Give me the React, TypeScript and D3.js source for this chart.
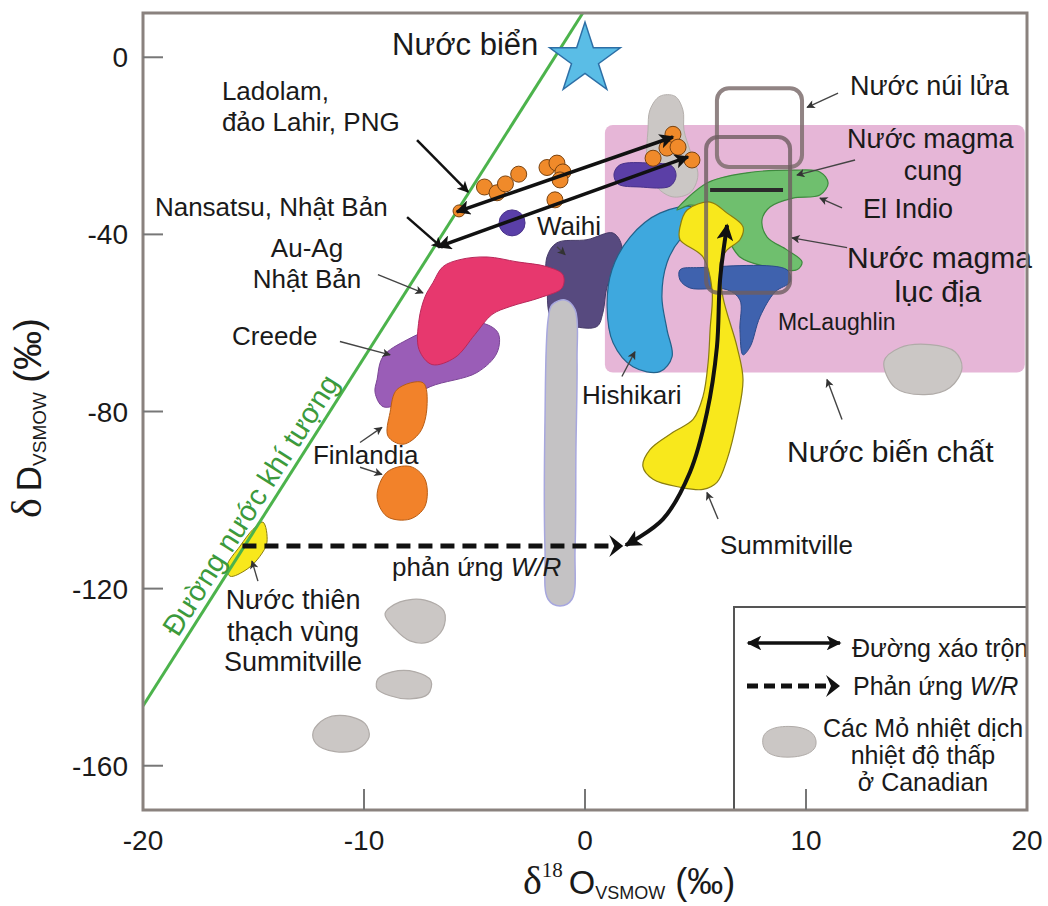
import React from 'react';
import * as d3 from 'd3';

type P = [number, number];

// ---------- axes ----------
const xDomain: P = [-20, 20];
const yDomain: P = [-170, 10];
const xTickLabels = [-20, -10, 0, 10, 20];
const xTickMarks = [-10, 0, 10];
const yTickLabels = [0, -40, -80, -120, -160];

// ---------- data (δ18O ‰, δD ‰) ----------
const seaWater: P = [0, 0];
const meteoricLine: P[] = [[-20, -146.5], [-0.1, 10]];
const metamorphicBox = { x0: 0.9, x1: 19.9, yTop: -15.3, yBottom: -71.2 };
const volcanicBox = { x0: 5.97, x1: 9.82, yTop: -7.0, yBottom: -24.8 };
const magmaticBox = { x0: 5.48, x1: 9.28, yTop: -18.0, yBottom: -53.2 };
const magmaticLine: P[] = [[5.66, -30.0], [8.96, -30.0]];

const canadianTop: P[] = [[2.94, -11.9], [3.39, -8.8], [4.07, -8.8], [4.43, -11.9], [4.48, -16.5], [4.75, -21.0], [5.11, -26.6], [4.75, -30.6], [3.94, -31.5], [3.17, -28.8], [2.81, -23.2], [2.85, -16.5]];
const canadianStrip: P[] = [[-1.67, -59.3], [-1.49, -55.9], [-0.9, -54.8], [-0.45, -57.0], [-0.36, -68.3], [-0.41, -88.6], [-0.45, -111.1], [-0.59, -122.4], [-1.13, -123.9], [-1.67, -122.4], [-1.81, -111.1], [-1.81, -81.8]];
const canadianA: P[] = [[-9.05, -125.7], [-8.37, -123.0], [-7.24, -122.6], [-6.38, -125.1], [-6.43, -129.1], [-7.1, -132.1], [-7.92, -131.8], [-8.6, -129.1]];
const canadianB: P[] = [[-9.37, -140.4], [-8.73, -138.8], [-7.69, -138.8], [-6.97, -140.8], [-7.1, -143.8], [-7.92, -144.9], [-8.82, -144.2], [-9.41, -142.6]];
const canadianC: P[] = [[-12.3, -152.3], [-11.76, -149.4], [-10.86, -148.7], [-9.95, -150.5], [-9.77, -153.5], [-10.27, -156.2], [-11.31, -156.8], [-12.17, -155.0]];
const canadianD: P[] = [[13.53, -68.7], [14.25, -65.6], [15.61, -64.9], [16.74, -66.5], [17.06, -70.1], [16.52, -74.6], [15.38, -76.2], [14.03, -74.6]];

const purpleBar: P[] = [[1.58, -24.3], [2.94, -23.9], [3.94, -24.6], [4.12, -26.8], [3.85, -29.1], [2.49, -29.3], [1.49, -28.6], [1.31, -26.4]];
const purpleDot: P = [-3.3, -37.4];

const waihi: P[] = [[-1.72, -45.1], [-1.27, -41.9], [0.09, -41.2], [1.27, -39.7], [1.67, -42.8], [1.45, -47.3], [1.0, -51.8], [0.81, -57.7], [0.54, -60.8], [-0.54, -60.8], [-1.49, -59.3], [-1.72, -51.8]];
const auAgJapan: P[] = [[-6.88, -50.9], [-6.43, -47.3], [-5.66, -45.7], [-4.43, -45.1], [-3.08, -46.2], [-1.72, -47.3], [-1.0, -49.1], [-1.04, -52.1], [-2.04, -54.3], [-3.39, -56.3], [-4.21, -58.1], [-4.98, -62.6], [-5.88, -67.8], [-6.92, -69.4], [-7.51, -66.0], [-7.51, -59.3], [-7.24, -54.1]];
const creede: P[] = [[-9.41, -72.8], [-9.14, -67.6], [-8.05, -63.8], [-6.56, -60.8], [-4.75, -59.9], [-3.94, -62.2], [-3.98, -66.7], [-4.89, -71.2], [-7.01, -74.4], [-8.24, -78.0], [-9.14, -78.9], [-9.5, -75.7]];
const finlandia1: P[] = [[-8.5, -75.0], [-7.33, -73.5], [-7.15, -78.9], [-7.47, -84.7], [-8.24, -87.4], [-8.91, -85.6], [-8.82, -80.2]];
const finlandia2: P[] = [[-8.96, -93.7], [-7.92, -92.4], [-7.24, -95.3], [-7.24, -101.4], [-7.92, -104.3], [-8.96, -103.7], [-9.41, -99.2]];
const meteoricSummitville: P[] = [[-14.57, -105.0], [-14.39, -109.5], [-14.71, -112.7], [-15.29, -115.6], [-16.06, -117.2], [-16.2, -114.9], [-15.61, -110.4], [-15.02, -106.6]];
const hishikari: P[] = [[4.89, -34.0], [3.39, -35.2], [2.04, -40.6], [1.22, -48.0], [1.0, -56.3], [1.27, -64.5], [2.17, -69.9], [3.39, -71.0], [3.94, -67.6], [3.71, -61.5], [3.48, -54.1], [3.71, -46.4], [4.3, -41.2], [4.89, -39.0]];
const hishikariBump: P[] = [[6.92, -34.9], [7.38, -34.5], [7.56, -36.3], [7.38, -38.3], [6.92, -38.1]];
const elIndio: P[] = [[4.16, -34.5], [5.52, -28.4], [7.33, -26.1], [9.41, -25.5], [10.63, -25.9], [11.0, -28.4], [10.63, -31.1], [9.41, -31.8], [8.37, -33.8], [8.01, -36.7], [8.24, -40.6], [9.14, -43.5], [9.82, -46.2], [9.59, -48.0], [8.24, -47.3], [7.01, -45.1], [6.24, -39.0], [5.52, -34.5], [4.75, -33.4]];
const mcLaughlin: P[] = [[4.3, -48.0], [5.2, -47.5], [9.14, -48.0], [9.28, -50.7], [8.6, -53.0], [7.92, -58.6], [7.47, -65.4], [7.15, -67.2], [7.01, -61.5], [7.01, -54.8], [6.43, -52.5], [4.75, -52.1], [4.3, -50.3]];
const summitville: P[] = [[4.62, -34.5], [5.66, -32.7], [6.43, -35.2], [7.15, -38.3], [7.01, -41.2], [6.43, -43.5], [6.11, -46.4], [6.24, -54.1], [6.88, -65.4], [7.15, -72.8], [6.88, -81.8], [6.43, -90.8], [5.97, -96.0], [5.34, -97.6], [4.3, -97.1], [3.08, -95.3], [2.62, -92.4], [2.94, -88.6], [3.98, -84.7], [4.89, -81.8], [5.34, -76.6], [5.57, -69.0], [5.66, -61.5], [5.75, -52.5], [5.34, -45.1], [4.3, -41.2], [4.3, -38.3]];

const ladolamDots: P[] = [[-5.7, -34.7], [-4.55, -29.3], [-3.98, -30.6], [-3.6, -28.6], [-3.0, -26.4], [-1.72, -24.9], [-1.27, -23.9], [-1.0, -25.9], [-1.13, -27.7], [-1.36, -32.2], [3.08, -22.8], [3.71, -20.5], [3.98, -17.4], [4.21, -20.3], [4.84, -23.2]];

const mixingLine1: P[] = [[-5.8, -34.9], [3.98, -18.0]];
const mixingLine2: P[] = [[-6.65, -42.8], [4.66, -22.5]];
const summitvilleMixCurve: P[] = [[1.85, -110.2], [3.53, -104.3], [4.75, -93.7], [5.52, -80.2], [5.97, -65.4], [6.11, -50.3], [6.43, -37.9]];
const wrReaction: P[] = [[-15.5, -110.4], [1.55, -110.4]];

// annotations: pointer arrows (data coords)
const pointers: { from: P; to: P; bold?: boolean }[] = [
  { from: [-7.6, -18.7], to: [-5.29, -30.4], bold: true },
  { from: [-8.05, -36.1], to: [-6.47, -43.0], bold: true },
  { from: [-9.37, -49.1], to: [-7.33, -53.2] },
  { from: [-11.09, -64.2], to: [-8.82, -67.2] },
  { from: [-10.18, -87.0], to: [-9.19, -83.6] },
  { from: [-10.18, -92.6], to: [-9.19, -94.2] },
  { from: [-14.8, -118.3], to: [-15.07, -113.8] },
  { from: [-1.27, -42.8], to: [-0.9, -44.6] },
  { from: [1.67, -72.1], to: [2.26, -66.5] },
  { from: [11.45, -8.1], to: [10.05, -11.3] },
  { from: [12.22, -23.2], to: [9.59, -26.6] },
  { from: [11.63, -34.0], to: [10.63, -31.8] },
  { from: [11.86, -43.0], to: [9.37, -40.8] },
  { from: [11.63, -81.8], to: [10.95, -72.8] },
  { from: [6.02, -104.3], to: [5.52, -98.3] },
];

const labels: { text: string; at: P; anchor?: string; size: number; italicTail?: string }[] = [
  { text: 'Nước biển', at: [-8.73, 0.45], size: 31 },
  { text: 'Ladolam,', at: [-16.43, -9.7], size: 26 },
  { text: 'đảo Lahir, PNG', at: [-16.43, -16.7], size: 26 },
  { text: 'Nansatsu, Nhật Bản', at: [-19.46, -35.8], size: 26 },
  { text: 'Au-Ag', at: [-12.58, -45.1], anchor: 'middle', size: 26 },
  { text: 'Nhật Bản', at: [-12.58, -52.1], anchor: 'middle', size: 26 },
  { text: 'Creede', at: [-15.97, -64.9], size: 26 },
  { text: 'Finlandia', at: [-12.31, -91.9], size: 26 },
  { text: 'phản ứng ', italicTail: 'W/R', at: [-8.73, -117.2], size: 26 },
  { text: 'Nước thiên', at: [-13.21, -124.6], anchor: 'middle', size: 27 },
  { text: 'thạch vùng', at: [-13.21, -131.8], anchor: 'middle', size: 27 },
  { text: 'Summitville', at: [-13.21, -138.6], anchor: 'middle', size: 27 },
  { text: 'Waihi', at: [-2.17, -40.1], size: 26 },
  { text: 'Hishikari', at: [-0.14, -78.4], size: 26 },
  { text: 'Nước núi lửa', at: [11.99, -8.6], size: 27 },
  { text: 'Nước magma', at: [11.86, -20.5], size: 27 },
  { text: 'cung', at: [15.75, -27.7], anchor: 'middle', size: 27 },
  { text: 'El Indio', at: [12.58, -36.3], size: 27 },
  { text: 'Nước magma', at: [11.86, -47.5], size: 30 },
  { text: 'lục địa', at: [15.97, -55.2], anchor: 'middle', size: 30 },
  { text: 'McLaughlin', at: [8.73, -61.5], size: 23 },
  { text: 'Nước biến chất', at: [9.14, -91.3], size: 30 },
  { text: 'Summitville', at: [6.11, -112.2], size: 26 },
];
const meteoricLabel = { text: 'Đường nước khí tượng', at: [-14.48, -103.2] as P };

const legendItems = ['Đường xáo trộn', 'Phản ứng ', 'Các Mỏ nhiệt dịch', 'nhiệt độ thấp', 'ở Canadian'];

const SANS = 'Liberation Sans, Arial, Helvetica, sans-serif';
const SERIF = 'Liberation Serif, Times New Roman, serif';

export default function App() {
  const W = 1048, H = 906;
  const x = d3.scaleLinear().domain(xDomain).range([143, 1027]);
  const y = d3.scaleLinear().domain(yDomain).range([810, 13]);

  const blob = d3.line<P>().x(d => x(d[0])).y(d => y(d[1])).curve(d3.curveCatmullRomClosed.alpha(0.5));
  const smooth = d3.line<P>().x(d => x(d[0])).y(d => y(d[1])).curve(d3.curveCatmullRom.alpha(0.5));
  const straight = d3.line<P>().x(d => x(d[0])).y(d => y(d[1]));

  const shape = (pts: P[], fill: string, stroke: string, sw = 1.2) => (
    <path d={blob(pts) || ''} fill={fill} stroke={stroke} strokeWidth={sw} />
  );

  const boxRect = (b: { x0: number; x1: number; yTop: number; yBottom: number }) => ({
    x: x(b.x0), y: y(b.yTop), width: x(b.x1) - x(b.x0), height: y(b.yBottom) - y(b.yTop),
  });

  const mb = boxRect(metamorphicBox);
  const vb = boxRect(volcanicBox);
  const gb = boxRect(magmaticBox);

  const starPath = d3.symbol().type(d3.symbolStar).size(1550)() || '';

  // meteoric label angle and perpendicular offset (to upper-left side of the line)
  const mx0 = x(meteoricLine[0][0]), my0 = y(meteoricLine[0][1]);
  const mx1 = x(meteoricLine[1][0]), my1 = y(meteoricLine[1][1]);
  const rad = Math.atan2(my1 - my0, mx1 - mx0);
  const ang = (rad * 180) / Math.PI;
  const off = 7;
  const lx = x(meteoricLabel.at[0]) + Math.sin(rad) * off;
  const ly = y(meteoricLabel.at[1]) - Math.cos(rad) * off;

  const wrEnd = wrReaction[1];

  return (
    <div style={{ position: 'absolute', left: 0, top: 0 }}>
      <svg width={W} height={H} style={{ display: 'block', background: '#fff' }} fontFamily={SANS}>
        <defs>
          <marker id="ah" viewBox="0 0 10 10" refX="9" refY="5" markerWidth="5" markerHeight="4.2" orient="auto-start-reverse" markerUnits="strokeWidth">
            <path d="M0,0 L10,5 L0,10 L2.5,5 z" fill="#111" />
          </marker>
          <marker id="ahs" viewBox="0 0 10 10" refX="9" refY="5" markerWidth="7" markerHeight="6" orient="auto" markerUnits="strokeWidth">
            <path d="M0,0 L10,5 L0,10 L2.5,5 z" fill="#333" />
          </marker>
          <marker id="ahb" viewBox="0 0 10 10" refX="9" refY="5" markerWidth="5" markerHeight="4.5" orient="auto" markerUnits="strokeWidth">
            <path d="M0,0 L10,5 L0,10 L2.5,5 z" fill="#111" />
          </marker>
          <clipPath id="plot">
            <rect x={143} y={13} width={884} height={797} />
          </clipPath>
        </defs>

        <g clipPath="url(#plot)">
          <rect x={mb.x} y={mb.y} width={mb.width} height={mb.height} rx={8} fill="#e6b6d7" />

          {shape(canadianTop, '#cbc7c5', '#b5b0ad', 1)}
          {shape(purpleBar, '#5b3fa6', '#4a338a', 1)}
          {shape(waihi, '#574a7f', '#463b68', 1)}
          {shape(canadianStrip, '#c4c2c4', '#a7a7de', 1.5)}
          {shape(creede, '#9a5db7', '#7a4595', 1)}
          {shape(auAgJapan, '#e7386e', '#b8285a', 1)}
          {shape(finlandia1, '#f2822a', '#b85d15', 1)}
          {shape(finlandia2, '#f2822a', '#b85d15', 1)}
          {shape(hishikari, '#3ea8de', '#22628a', 1.2)}
          {shape(hishikariBump, '#3ea8de', '#22628a', 1)}
          {shape(elIndio, '#6fbf6e', '#3e8a3e', 1.2)}
          {shape(mcLaughlin, '#3f62ae', '#2c4a8a', 1)}
          {shape(summitville, '#f8e81c', '#8a7d10', 1.2)}
          {shape(canadianA, '#cbc7c5', '#b0aba8', 1.2)}
          {shape(canadianB, '#cbc7c5', '#b0aba8', 1.2)}
          {shape(canadianC, '#cbc7c5', '#b0aba8', 1.2)}
          {shape(canadianD, '#cbc7c5', '#b0aba8', 1.2)}
          {shape(meteoricSummitville, '#f8e81c', '#8a7d10', 1)}

          <rect x={vb.x} y={vb.y} width={vb.width} height={vb.height} rx={12} fill="none" stroke="#7e6e6e" strokeOpacity={0.85} strokeWidth={4} />
          <rect x={gb.x} y={gb.y} width={gb.width} height={gb.height} rx={12} fill="none" stroke="#6e5e60" strokeOpacity={0.8} strokeWidth={4} />
          <path d={straight(magmaticLine) || ''} stroke="#2a2a2a" strokeWidth={4} />

          <path d={straight(meteoricLine) || ''} stroke="#4cb34c" strokeWidth={3} fill="none" />

          <circle cx={x(purpleDot[0])} cy={y(purpleDot[1])} r={13} fill="#5a3fa8" stroke="#4a338a" />

          {ladolamDots.map((d, i) => (
            <circle key={i} cx={x(d[0])} cy={y(d[1])} r={i === 0 ? 6 : 8} fill="#f08a2a" stroke="#7a4310" strokeWidth={1} />
          ))}

          <path d={straight(mixingLine1) || ''} stroke="#111" strokeWidth={3.5} fill="none" markerStart="url(#ah)" markerEnd="url(#ah)" />
          <path d={straight(mixingLine2) || ''} stroke="#111" strokeWidth={3.5} fill="none" markerStart="url(#ah)" markerEnd="url(#ah)" />
          <path d={smooth(summitvilleMixCurve) || ''} stroke="#111" strokeWidth={4} fill="none" markerStart="url(#ah)" markerEnd="url(#ah)" />

          <path d={straight(wrReaction) || ''} stroke="#111" strokeWidth={5} strokeDasharray="14 8" fill="none" />
          <path transform={`translate(${x(wrEnd[0])},${y(wrEnd[1])})`} d="M-10,-11 L4,0 L-10,11 L-5,0 Z" fill="#111" />

          <path transform={`translate(${x(seaWater[0])},${y(seaWater[1]) + 2})`} d={starPath} fill="#5abde6" stroke="#2d6fa6" strokeWidth={1.5} />

          {pointers.map((p, i) => (
            <line
              key={i}
              x1={x(p.from[0])} y1={y(p.from[1])} x2={x(p.to[0])} y2={y(p.to[1])}
              stroke={p.bold ? '#111' : '#444'}
              strokeWidth={p.bold ? 2.5 : 1.4}
              markerEnd={p.bold ? 'url(#ahb)' : 'url(#ahs)'}
            />
          ))}

          <text transform={`translate(${lx},${ly}) rotate(${ang})`} textAnchor="middle" fontSize={29} fill="#3c9a3c">
            {meteoricLabel.text}
          </text>
        </g>

        {labels.map((l, i) => (
          <text key={i} x={x(l.at[0])} y={y(l.at[1])} fontSize={l.size} textAnchor={l.anchor || 'start'} fill="#1a1a1a">
            {l.text}
            {l.italicTail ? <tspan fontStyle="italic">{l.italicTail}</tspan> : null}
          </text>
        ))}

        {/* legend */}
        <g>
          <rect x={734} y={607} width={293} height={203} fill="#fff" stroke="#555" strokeWidth={2} />
          <line x1={748} y1={643} x2={840} y2={643} stroke="#111" strokeWidth={3.5} markerStart="url(#ah)" markerEnd="url(#ah)" />
          <text x={852} y={657} fontSize={25} fill="#1a1a1a">{legendItems[0]}</text>
          <line x1={747} y1={686} x2={826} y2={686} stroke="#111" strokeWidth={5} strokeDasharray="11 6" />
          <path transform="translate(836,686)" d="M-10,-11 L4,0 L-10,11 L-5,0 Z" fill="#111" />
          <text x={853} y={695} fontSize={25} fill="#1a1a1a">{legendItems[1]}<tspan fontStyle="italic">W/R</tspan></text>
          <path
            transform="translate(789,742)"
            d="M-26,-4 C-24,-14 -8,-17 8,-15 C22,-13 28,-6 27,2 C26,12 10,16 -6,15 C-20,14 -28,8 -26,-4 Z"
            fill="#cbc7c5" stroke="#b0aba8"
          />
          <text x={923} y={737} fontSize={25} textAnchor="middle" fill="#1a1a1a">{legendItems[2]}</text>
          <text x={923} y={764} fontSize={25} textAnchor="middle" fill="#1a1a1a">{legendItems[3]}</text>
          <text x={923} y={791} fontSize={25} textAnchor="middle" fill="#1a1a1a">{legendItems[4]}</text>
        </g>

        <rect x={143} y={13} width={884} height={797} fill="none" stroke="#8a827e" strokeWidth={3} />

        {yTickLabels.map(v => (
          <g key={'y' + v}>
            <line x1={143} x2={163} y1={y(v)} y2={y(v)} stroke="#777" strokeWidth={2} />
            <text x={128} y={y(v)} dy="0.36em" textAnchor="end" fontSize={28} fill="#1a1a1a">{v}</text>
          </g>
        ))}
        {xTickMarks.map(v => (
          <line key={'xt' + v} x1={x(v)} x2={x(v)} y1={810} y2={789} stroke="#777" strokeWidth={2} />
        ))}
        {xTickLabels.map(v => (
          <text key={'x' + v} x={x(v)} y={850} textAnchor="middle" fontSize={28} fill="#1a1a1a">{v}</text>
        ))}

        {/* axis titles */}
        <text x={523} y={894} fill="#1a1a1a">
          <tspan fontFamily={SERIF} fontSize={40}>δ</tspan>
          <tspan fontFamily={SERIF} fontSize={21} dy={-17}>18</tspan>
          <tspan fontSize={34} dy={17} dx={6}>O</tspan>
          <tspan fontSize={18} dy={5}>VSMOW</tspan>
          <tspan fontSize={36} dy={-5}> (‰)</tspan>
        </text>
        <text transform="translate(41,518) rotate(-90)" fill="#1a1a1a">
          <tspan fontFamily={SERIF} fontSize={42}>δ</tspan>
          <tspan fontSize={35} dx={7}>D</tspan>
          <tspan fontSize={19} dy={5}>VSMOW</tspan>
          <tspan fontSize={39} dy={-5} dx={9}>(‰)</tspan>
        </text>
      </svg>
    </div>
  );
}
